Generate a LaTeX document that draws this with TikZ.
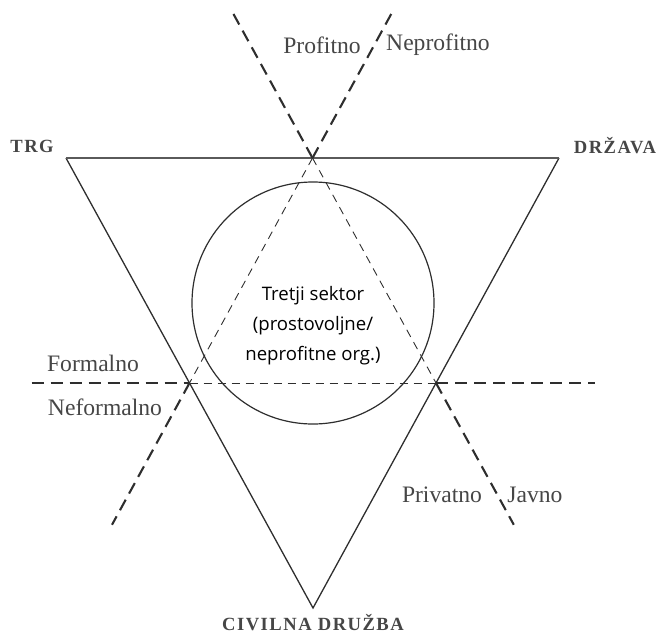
\documentclass[tikz,border=0pt]{standalone}
\usepackage{fontspec}
\setmainfont{Liberation Serif}
\newfontfamily\sektorfont{Open Sans}
\newfontfamily\capsfont[LetterSpace=8]{Liberation Serif}
\usetikzlibrary{calc}
\definecolor{cInk}{HTML}{2E2E2E}
\definecolor{cText}{HTML}{464646}
\definecolor{cTop}{HTML}{5A5A5A}
\tikzset{
  side/.style={draw=cInk,line width=0.65pt,line join=miter},
  topside/.style={draw=cTop,line width=0.95pt},
  outdash/.style={draw=cInk,line width=1.05pt,dash pattern=on 6pt off 3.5pt},
  indash/.style={draw=cInk,line width=0.45pt,dash pattern=on 4pt off 3pt},
  lab/.style={font=\fontsize{11.8}{13}\selectfont,text=cText,inner sep=0pt},
  corner/.style={font=\capsfont\bfseries\fontsize{9.3}{11}\selectfont,text=cText,inner sep=0pt},
  sektor/.style={font=\sektorfont\fontsize{9.3}{15}\selectfont,text=black,align=center,inner sep=0pt},
}

\begin{document}
\begin{tikzpicture}[x=0.5pt,y=-0.5pt]
  \useasboundingbox (0,0) rectangle (658,632);
  % vertices and midpoints
  \coordinate (trg) at (66,158);
  \coordinate (drz) at (559,158);
  \coordinate (civ) at (313,608);
  \coordinate (mT) at ($(trg)!0.5!(drz)$);
  \coordinate (mL) at ($(trg)!0.5!(civ)$);
  \coordinate (mR) at ($(drz)!0.5!(civ)$);
  % free ends of the dashed lines
  \coordinate (profEnd) at ($(mT)!-0.64!(mR)$);
  \coordinate (javEnd) at ($(mT)!1.63!(mR)$);
  \coordinate (nprofEnd) at ($(mT)!-0.64!(mL)$);
  \coordinate (nformEnd) at ($(mT)!1.63!(mL)$);
  \coordinate (formEnd) at ($(mL)!-0.64!(mR)$);
  \coordinate (rightEnd) at ($(mL)!1.645!(mR)$);

  \draw[side] (trg) -- (civ) -- (drz);
  \draw[topside] (trg) -- (drz);
  \node[draw=cInk,line width=0.6pt,circle,inner sep=0pt,minimum size=121pt] (krog) at (313,303) {};

  \draw[outdash] (profEnd) -- (mT);
  \draw[outdash] (nprofEnd) -- (mT);
  \draw[outdash] (mR) -- (javEnd);
  \draw[outdash] (mL) -- (nformEnd);
  \draw[outdash] (formEnd) -- (mL);
  \draw[outdash] (mR) -- (rightEnd);
  \draw[indash] (mT) -- (mR);
  \draw[indash] (mT) -- (mL);
  \draw[indash] (mL) -- (mR);

  \node[sektor] (tretji) at (313,326) {Tretji sektor\\(prostovoljne/\\neprofitne org.)};

  \node[corner] (trgLab) at (32,146) {TRG};
  \node[corner] (drzLab) at (615,146) {DRŽAVA};
  \node[corner] (civLab) at (313,623) {CIVILNA DRUŽBA};

  \node[lab] (profit) at (322,45) {Profitno};
  \node[lab] (neprofit) at (438,45) {Neprofitno};
  \node[lab] (formal) at (93,363) {Formalno};
  \node[lab] (neformal) at (105,407) {Neformalno};
  \node[lab] (privat) at (442,495) {Privatno};
  \node[lab] (javno) at (535,495) {Javno};
\end{tikzpicture}
\end{document}
